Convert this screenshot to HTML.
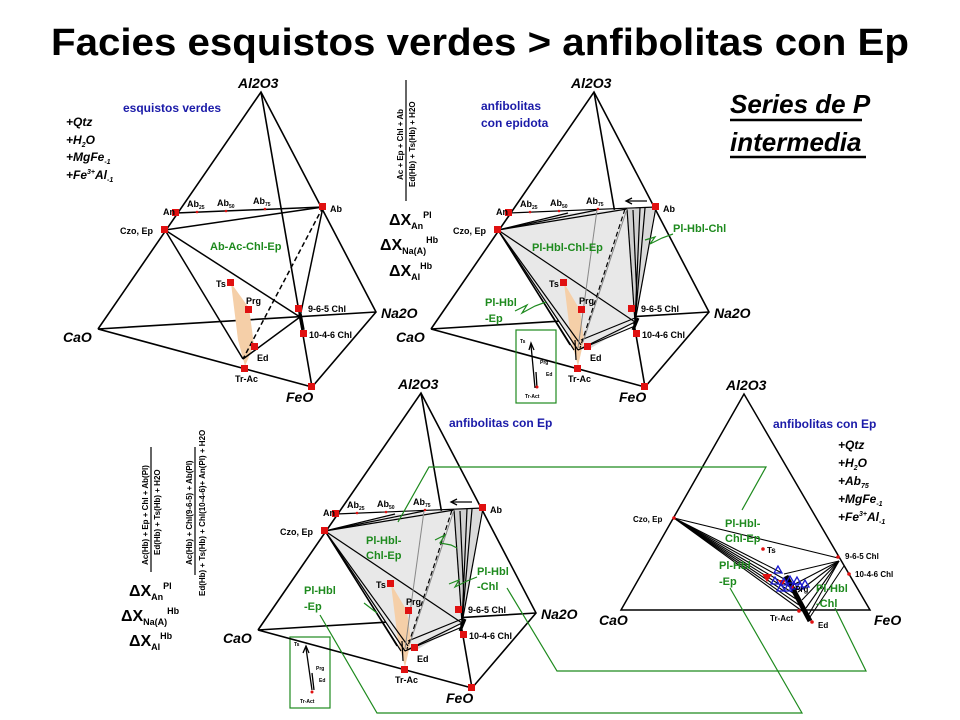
<!DOCTYPE html>
<html><head><meta charset="utf-8"><style>
html,body{margin:0;padding:0;background:#fff;}
svg{display:block;font-family:"Liberation Sans",sans-serif;}
.bi{font-weight:bold;font-style:italic;}
.b{font-weight:bold;}
.g{fill:#1e8a1e;font-weight:bold;}
.bl{fill:#1a1aa8;font-weight:bold;}
</style></head><body>
<svg width="960" height="720" viewBox="0 0 960 720" xmlns="http://www.w3.org/2000/svg">
<defs>
<g id="tet">
  <g stroke="#000" stroke-width="1.6" fill="none">
    <polyline points="98,329 261,92 376,312 312,387 98,329 376,312"/>
    <line x1="261" y1="92" x2="312" y2="387"/>
  </g>
</g>
<g id="dots">
  <g fill="#e01010">
    <rect x="172" y="209" width="7" height="7"/><rect x="319" y="203" width="7" height="7"/>
    <rect x="161" y="226" width="7" height="7"/><rect x="308" y="383" width="7" height="7"/>
    <rect x="241" y="365" width="7" height="7"/><rect x="227" y="279" width="7" height="7"/>
    <rect x="245" y="306" width="7" height="7"/><rect x="251" y="343" width="7" height="7"/>
    <rect x="295" y="305" width="7" height="7"/><rect x="300" y="330" width="7" height="7"/>
    <circle cx="197" cy="212" r="1.3"/><circle cx="226" cy="211" r="1.3"/><circle cx="265" cy="209" r="1.3"/>
  </g>
  <g font-size="9" class="b">
    <text x="163" y="215">An</text><text x="330" y="212">Ab</text>
    <text x="120" y="234">Czo, Ep</text><text x="216" y="287">Ts</text>
    <text x="246" y="304">Prg</text><text x="257" y="361">Ed</text>
    <text x="235" y="382">Tr-Ac</text><text x="308" y="312">9-6-5 Chl</text>
    <text x="309" y="338">10-4-6 Chl</text>
    <text x="187" y="207">Ab<tspan font-size="5" dy="2">25</tspan></text>
    <text x="217" y="206">Ab<tspan font-size="5" dy="2">50</tspan></text>
    <text x="253" y="204">Ab<tspan font-size="5" dy="2">75</tspan></text>
  </g>
  <g class="bi" font-size="14">
    <text x="238" y="88">Al2O3</text><text x="63" y="342">CaO</text>
    <text x="381" y="318">Na2O</text><text x="286" y="402">FeO</text>
  </g>
</g>
<g id="inner2">
  <polygon points="165,230 235,213 294,209 302,322 245,350" fill="#e8e8e8"/>
  <polygon points="294,209 302,322 307,208" fill="#d0d0d0"/>
  <polygon points="307,208 302,322 322,207" fill="#dadada"/>
  <polygon points="245,350 302,322 258,348" fill="#d8d8d8"/>
  <polygon points="231,283 247,310 251,340 245,366 238,340" fill="#f5cfa8"/>
  <g stroke="#000" stroke-width="1.2" fill="none">
    <line x1="176" y1="213" x2="323" y2="207"/>
    <line x1="165" y1="230" x2="235" y2="213"/><line x1="165" y1="230" x2="264" y2="210"/>
    <line x1="165" y1="230" x2="294" y2="209"/>
    <line x1="165" y1="230" x2="302" y2="322"/>
    <line x1="165" y1="230" x2="245" y2="350"/><line x1="165" y1="230" x2="241" y2="350"/>
    <line x1="165" y1="230" x2="237" y2="345"/><line x1="165" y1="230" x2="248" y2="345"/>
    <line x1="245" y1="350" x2="302" y2="322"/><line x1="245" y1="350" x2="302" y2="326"/>
    <line x1="248" y1="340" x2="302" y2="318"/>
    <line x1="294" y1="209" x2="302" y2="322"/><line x1="307" y1="208" x2="302" y2="322"/>
    <line x1="323" y1="207" x2="302" y2="322"/><line x1="312" y1="208" x2="302" y2="322"/>
    <line x1="300" y1="210" x2="304" y2="300"/>
    <line x1="305" y1="318" x2="300" y2="330" stroke-width="3"/>
    <line x1="292" y1="209" x2="247" y2="348" stroke-dasharray="5,3"/>
    <line x1="243" y1="360" x2="242" y2="340"/>
  </g>
  <g stroke="#888" stroke-width="1" fill="none">
    <line x1="264" y1="210" x2="245" y2="348"/><line x1="294" y1="209" x2="250" y2="342"/>
  </g>
</g>
</defs>

<text x="480" y="55" text-anchor="middle" font-size="38" class="b" textLength="858" lengthAdjust="spacingAndGlyphs">Facies esquistos verdes &gt; anfibolitas con Ep</text>

<!-- Diagram 1 -->
<g>
  <use href="#tet"/>
  <polygon points="231,283 249,308 254,345 245,366 238,340" fill="#f5cfa8"/>
  <g stroke="#000" stroke-width="1.5" fill="none">
    <line x1="176" y1="213" x2="323" y2="207"/>
    <line x1="165" y1="230" x2="323" y2="207"/>
    <line x1="165" y1="230" x2="300" y2="317"/>
    <line x1="165" y1="230" x2="243" y2="359"/>
    <line x1="243" y1="359" x2="300" y2="317"/>
    <line x1="323" y1="207" x2="300" y2="317"/>
    <line x1="323" y1="207" x2="243" y2="359" stroke-dasharray="5,3"/>
    <line x1="300" y1="314" x2="303" y2="330" stroke-width="3.5"/>
  </g>
  <use href="#dots"/>
  <text x="123" y="112" font-size="12" class="bl">esquistos verdes</text>
  <text x="210" y="250" font-size="11" class="g">Ab-Ac-Chl-Ep</text>
  <g class="bi" font-size="12">
    <text x="66" y="126">+Qtz</text>
    <text x="66" y="144">+H<tspan font-size="7" dy="3">2</tspan><tspan dy="-3">O</tspan></text>
    <text x="66" y="161">+MgFe<tspan font-size="7" dy="3">-1</tspan></text>
    <text x="66" y="179">+Fe<tspan font-size="7" dy="-5">3+</tspan><tspan dy="5">Al</tspan><tspan font-size="7" dy="3">-1</tspan></text>
  </g>
</g>

<!-- top fraction -->
<line x1="406" y1="80" x2="406" y2="201" stroke="#000" stroke-width="1.2"/>
<text transform="translate(403,180) rotate(-90)" font-size="8" class="b">Ac + Ep + Chl + Ab</text>
<text transform="translate(415,187) rotate(-90)" font-size="8" class="b">Ed(Hb) + Ts(Hb) + H2O</text>
<g class="b" font-size="16">
  <text x="389" y="225">ΔX<tspan font-size="9" dy="4">An</tspan><tspan font-size="9" dy="-11">Pl</tspan></text>
  <text x="380" y="250">ΔX<tspan font-size="9" dy="4">Na(A)</tspan><tspan font-size="9" dy="-11">Hb</tspan></text>
  <text x="389" y="276">ΔX<tspan font-size="9" dy="4">Al</tspan><tspan font-size="9" dy="-11">Hb</tspan></text>
</g>

<!-- Diagram 2 -->
<g transform="translate(333,0)">
  <use href="#tet"/>
  <use href="#inner2"/>
  <use href="#dots"/>
</g>
<text x="481" y="110" font-size="12" class="bl">anfibolitas</text>
<text x="481" y="127" font-size="12" class="bl">con epidota</text>
<text x="532" y="251" font-size="11" class="g">Pl-Hbl-Chl-Ep</text>
<text x="673" y="232" font-size="11" class="g">Pl-Hbl-Chl</text>
<text x="485" y="306" font-size="11" class="g">Pl-Hbl</text>
<text x="485" y="322" font-size="11" class="g">-Ep</text>
<g stroke="#1e8a1e" stroke-width="1.2" fill="none">
  <polyline points="645,240 655,237 650,244 662,238 673,234"/>
  <polyline points="515,311 527,305 522,313 535,306 546,302"/>
  <rect x="516" y="330" width="40" height="73"/>
  <rect x="290" y="637" width="40" height="71"/>
</g>
<g stroke="#000" stroke-width="1.3" fill="none">
  <line x1="627" y1="201" x2="647" y2="201"/><polyline points="632,198 626,201 632,204"/>
  <line x1="535" y1="388" x2="531" y2="345"/><polyline points="529,350 531,343 534,350"/>
  <line x1="537" y1="388" x2="536" y2="372"/>
</g>
<g class="b" font-size="5"><text x="520" y="343">Ts</text><text x="540" y="364">Prg</text><text x="546" y="376">Ed</text><text x="525" y="398">Tr-Act</text></g>
<circle cx="537" cy="387" r="1.5" fill="#e01010"/>
<g class="bi" font-size="26">
  <text x="730" y="113">Series de P</text>
  <text x="730" y="151">intermedia</text>
</g>
<line x1="730" y1="120" x2="862" y2="120" stroke="#000" stroke-width="2.5"/>
<line x1="730" y1="157" x2="866" y2="157" stroke="#000" stroke-width="2.5"/>

<!-- Diagram 3 -->
<g transform="translate(160,301)">
  <use href="#tet"/>
  <use href="#inner2"/>
  <use href="#dots"/>
</g>
<text x="449" y="427" font-size="12" class="bl">anfibolitas con Ep</text>
<text x="366" y="544" font-size="11" class="g">Pl-Hbl-</text>
<text x="366" y="559" font-size="11" class="g">Chl-Ep</text>
<text x="477" y="575" font-size="11" class="g">Pl-Hbl</text>
<text x="477" y="590" font-size="11" class="g">-Chl</text>
<text x="304" y="594" font-size="11" class="g">Pl-Hbl</text>
<text x="304" y="610" font-size="11" class="g">-Ep</text>
<g stroke="#000" stroke-width="1.3" fill="none">
  <line x1="452" y1="502" x2="472" y2="502"/><polyline points="457,499 451,502 457,505"/>
  <line x1="312" y1="690" x2="306" y2="648"/><polyline points="303,653 306,646 309,653"/>
  <line x1="314" y1="690" x2="312" y2="673"/>
</g>
<g class="b" font-size="5"><text x="294" y="646">Ts</text><text x="316" y="670">Prg</text><text x="319" y="682">Ed</text><text x="300" y="703">Tr-Act</text></g>
<circle cx="312" cy="692" r="1.5" fill="#e01010"/>

<!-- lower-left fractions -->
<line x1="151" y1="447" x2="151" y2="572" stroke="#000" stroke-width="1.2"/>
<text transform="translate(148,565) rotate(-90)" font-size="8" class="b">Ac(Hb) + Ep + Chl + Ab(Pl)</text>
<text transform="translate(160,555) rotate(-90)" font-size="8" class="b">Ed(Hb) + Ts(Hb) + H2O</text>
<line x1="195" y1="447" x2="195" y2="575" stroke="#000" stroke-width="1.2"/>
<text transform="translate(192,565) rotate(-90)" font-size="8" class="b">Ac(Hb) + Chl(9-6-5) + Ab(Pl)</text>
<text transform="translate(205,596) rotate(-90)" font-size="8" class="b">Ed(Hb) + Ts(Hb) + Chl(10-4-6)+ An(Pl) + H2O</text>
<g class="b" font-size="16">
  <text x="129" y="596">ΔX<tspan font-size="9" dy="4">An</tspan><tspan font-size="9" dy="-11">Pl</tspan></text>
  <text x="121" y="621">ΔX<tspan font-size="9" dy="4">Na(A)</tspan><tspan font-size="9" dy="-11">Hb</tspan></text>
  <text x="129" y="646">ΔX<tspan font-size="9" dy="4">Al</tspan><tspan font-size="9" dy="-11">Hb</tspan></text>
</g>

<!-- Diagram 4 -->
<polygon points="744,394 621,610 870,610" fill="none" stroke="#000" stroke-width="1.5"/>
<g stroke="#000" stroke-width="1.1" fill="none">
  <line x1="674" y1="518" x2="838" y2="558"/>
  <line x1="674" y1="518" x2="782" y2="573"/><line x1="674" y1="518" x2="786" y2="580"/>
  <line x1="674" y1="518" x2="790" y2="587"/><line x1="674" y1="518" x2="793" y2="593"/>
  <line x1="674" y1="518" x2="796" y2="599"/><line x1="674" y1="518" x2="799" y2="605"/>
  <line x1="674" y1="518" x2="802" y2="611"/>
  <line x1="839" y1="561" x2="784" y2="574"/><line x1="839" y1="561" x2="793" y2="585"/>
  <line x1="839" y1="561" x2="798" y2="592"/><line x1="839" y1="561" x2="802" y2="600"/>
  <line x1="839" y1="561" x2="806" y2="608"/><line x1="839" y1="561" x2="809" y2="614"/>
  <line x1="844" y1="566" x2="810" y2="617"/>
  <line x1="786" y1="576" x2="810" y2="621" stroke-width="5"/>
</g>
<g fill="#e01010">
  <circle cx="674" cy="518" r="1.8"/><circle cx="838" cy="557" r="1.8"/><circle cx="849" cy="574" r="1.8"/>
  <circle cx="799" cy="611" r="1.8"/><circle cx="812" cy="622" r="1.8"/><circle cx="763" cy="549" r="1.8"/>
  <circle cx="792" cy="587" r="1.8"/>
  <polygon points="762,574 772,574 767,582"/><polygon points="778,580 786,580 782,586"/>
</g>
<g fill="none" stroke="#1a1ad0" stroke-width="1.3">
  <polygon points="778,566 774,573 782,573"/>
  <polygon points="775,577 771,584 779,584"/><polygon points="784,578 780,585 788,585"/>
  <polygon points="790,576 786,583 794,583"/><polygon points="797,577 793,584 801,584"/>
  <polygon points="794,582 790,589 798,589"/><polygon points="800,582 796,589 804,589"/>
  <polygon points="788,584 784,591 792,591"/><polygon points="781,584 777,591 785,591"/>
  <polygon points="805,580 801,587 809,587"/>
</g>
<g class="b" font-size="8">
  <text x="633" y="522">Czo, Ep</text><text x="767" y="553">Ts</text>
  <text x="845" y="559">9-6-5 Chl</text><text x="855" y="577">10-4-6 Chl</text>
  <text x="795" y="592">Prg</text><text x="770" y="621">Tr-Act</text><text x="818" y="628">Ed</text>
</g>
<g class="bi" font-size="14">
  <text x="726" y="390">Al2O3</text><text x="599" y="625">CaO</text><text x="874" y="625">FeO</text>
</g>
<text x="773" y="428" font-size="12" class="bl">anfibolitas con Ep</text>
<g class="bi" font-size="12">
  <text x="838" y="449">+Qtz</text>
  <text x="838" y="467">+H<tspan font-size="7" dy="3">2</tspan><tspan dy="-3">O</tspan></text>
  <text x="838" y="485">+Ab<tspan font-size="7" dy="3">75</tspan></text>
  <text x="838" y="503">+MgFe<tspan font-size="7" dy="3">-1</tspan></text>
  <text x="838" y="521">+Fe<tspan font-size="7" dy="-5">3+</tspan><tspan dy="5">Al</tspan><tspan font-size="7" dy="3">-1</tspan></text>
</g>
<text x="725" y="527" font-size="11" class="g">Pl-Hbl-</text>
<text x="725" y="542" font-size="11" class="g">Chl-Ep</text>
<text x="719" y="569" font-size="11" class="g">Pl-Hbl</text>
<text x="719" y="585" font-size="11" class="g">-Ep</text>
<text x="816" y="592" font-size="11" class="g">Pl-Hbl</text>
<text x="816" y="607" font-size="11" class="g">-Chl</text>

<!-- green connectors -->
<g stroke="#1e8a1e" stroke-width="1.2" fill="none">
  <polyline points="398,522 429,467 766,467 742,510"/>
  <polyline points="507,588 557,671 866,671 835,608"/>
  <polyline points="320,615 377,713 802,713 730,588"/>
  <polyline points="449,584 459,580 455,587 467,581 477,577"/>
  <polyline points="435,540 445,535 440,543 451,545 457,548"/>
  <line x1="377" y1="613" x2="364" y2="603"/>
</g>
</svg>
</body></html>
